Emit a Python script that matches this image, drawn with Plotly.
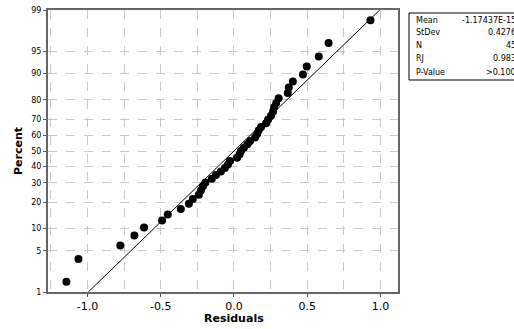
import plotly.graph_objects as go
from statistics import NormalDist

# Residuals (sorted)
residuals = [-1.144, -1.062, -0.776, -0.680, -0.614, -0.491, -0.452, -0.363, -0.308, -0.281,
             -0.240, -0.226, -0.212, -0.195, -0.151, -0.123, -0.089, -0.062, -0.041, -0.027,
             0.021, 0.038, 0.048, 0.068, 0.092, 0.110, 0.144, 0.158, 0.168, 0.185,
             0.219, 0.233, 0.253, 0.267, 0.274, 0.288, 0.305, 0.367, 0.374, 0.402,
             0.471, 0.497, 0.579, 0.646, 0.932]

# Summary statistics shown in the table
stat_labels = ["Mean", "StDev", "N", "RJ", "P-Value"]
stat_values = ["-1.17437E-15", "0.4276", "45", "0.983", ">0.100"]
MEAN = 0.0
STDEV = 0.4276

# Probability axis tick labels (percent)
pct_ticks = [1, 5, 10, 20, 30, 40, 50, 60, 70, 80, 90, 95, 99]
x_ticks = [-1.0, -0.5, 0.0, 0.5, 1.0]

nd = NormalDist()
n = len(residuals)
# Median-rank (Benard) plotting positions, mapped to normal quantiles
zvals = [nd.inv_cdf((i + 1 - 0.3) / (n + 0.4)) for i in range(n)]
z_lo, z_hi = nd.inv_cdf(0.01), nd.inv_cdf(0.99)

fig = go.Figure()
# fitted normal line
fig.add_trace(go.Scatter(
    x=[MEAN + STDEV * z_lo, MEAN + STDEV * z_hi], y=[z_lo, z_hi],
    mode="lines", line=dict(color="black", width=1), hoverinfo="skip"))
fig.add_trace(go.Scatter(
    x=residuals, y=zvals, mode="markers",
    marker=dict(color="black", size=8)))

W, H = 514, 329
ML, MR, MT, MB = 48, 116, 10, 37

grid_col = "#c8c8c8"
fig.update_layout(
    width=W, height=H,
    margin=dict(l=ML, r=MR, t=MT, b=MB, autoexpand=False),
    paper_bgcolor="white", plot_bgcolor="white",
    showlegend=False,
    font=dict(family="DejaVu Sans", color="black"),
)
fig.update_xaxes(
    range=[-1.27, 1.12], tickvals=x_ticks, ticktext=[f"{v:.1f}" for v in x_ticks],
    tickfont=dict(size=11), ticks="outside", ticklen=3, tickcolor="#555",
    showgrid=True, gridcolor=grid_col, griddash="dash", gridwidth=1,
    minor=dict(dtick=0.25, tick0=0, showgrid=True, gridcolor=grid_col, griddash="dash"),
    showline=True, linecolor="#666", linewidth=2, mirror=True, zeroline=False,
    automargin=False,
)
fig.update_yaxes(
    range=[z_lo, z_hi], tickvals=[nd.inv_cdf(p / 100) for p in pct_ticks],
    ticktext=[str(p) for p in pct_ticks],
    tickfont=dict(size=8), ticks="outside", ticklen=3, tickcolor="#555",
    showgrid=True, gridcolor=grid_col, griddash="dash", gridwidth=1,
    showline=True, linecolor="#666", linewidth=2, mirror=True, zeroline=False,
    automargin=False,
)

# helpers: page pixels -> paper coords
pw, ph = W - ML - MR, H - MT - MB
def px(xp):
    return (xp - ML) / pw
def py(yp):
    return (H - MB - yp) / ph

# axis titles
fig.add_annotation(xref="paper", yref="paper", x=px(234), y=py(318),
                   text="<b>Residuals</b>", showarrow=False,
                   xanchor="center", yanchor="middle", font=dict(size=11, color="black"))
fig.add_annotation(xref="paper", yref="paper", x=px(18), y=py(151),
                   text="<b>Percent</b>", showarrow=False, textangle=-90,
                   xanchor="center", yanchor="middle", font=dict(size=11, color="black"))

# Stats table box (right side clipped by the page edge)
fig.add_shape(type="rect", xref="paper", yref="paper",
              x0=px(409), x1=px(560), y0=py(80), y1=py(13),
              line=dict(color="black", width=1), fillcolor="white")
rows_y = [20, 33, 46, 59, 72]
for lab, val, yp in zip(stat_labels, stat_values, rows_y):
    fig.add_annotation(xref="paper", yref="paper", x=px(414), y=py(yp),
                       text=lab, showarrow=False, xanchor="left", yanchor="middle",
                       font=dict(size=8, color="black"))
    fig.add_annotation(xref="paper", yref="paper", x=px(518), y=py(yp),
                       text=val, showarrow=False, xanchor="right", yanchor="middle",
                       font=dict(size=8, color="black"))

fig.write_html("out.html", config={"displayModeBar": False},
               post_script="document.body.style.margin='0';document.body.style.overflow='hidden';")
